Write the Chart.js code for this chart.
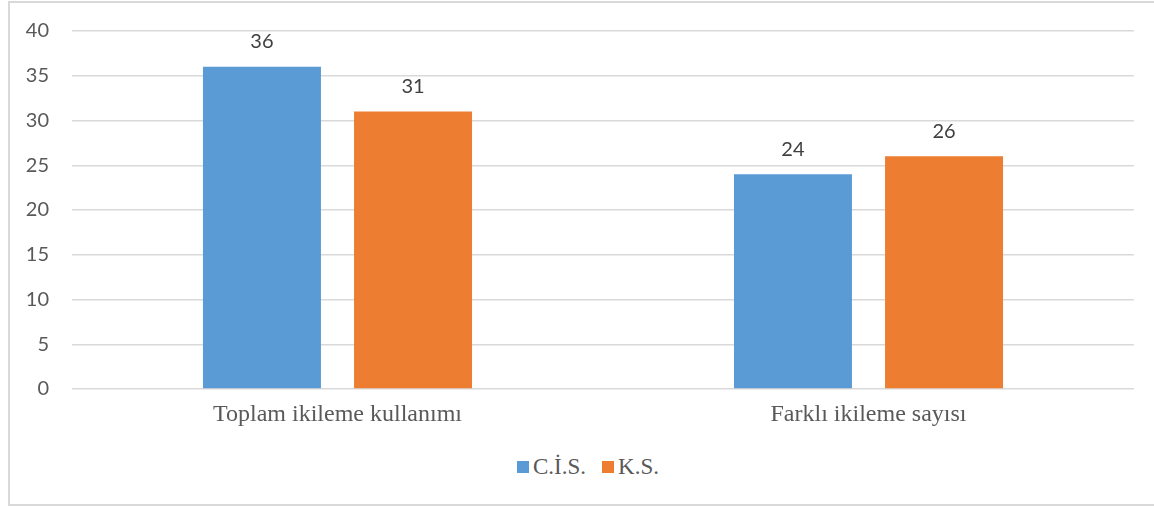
<!DOCTYPE html>
<html>
<head>
<meta charset="utf-8">
<script src="https://cdn.jsdelivr.net/npm/chart.js@4"></script>
<style>
  html, body { margin: 0; padding: 0; background: #fff; width: 1154px; height: 506px; overflow: hidden; }
  #frame { position: absolute; left: 8px; top: 1px; width: 1160px; height: 505px; border: 2px solid #d9d9d9; box-sizing: border-box; }
  #wrap { position: absolute; left: 0; top: -4px; width: 1154px; height: 444px; }
  #legend { position: absolute; left: 0; top: 454px; width: 1176px; text-align: center; font-family: "Liberation Serif", "Times New Roman", serif; font-size: 23px; color: #595959; }
  .item { display: inline-block; margin: 0 8px; }
  .box { display: inline-block; width: 12px; height: 12px; margin-right: 4px; vertical-align: 1px; }
</style>
</head>
<body>
<div id="frame"></div>
<div id="wrap"><canvas id="c" width="1154" height="444"></canvas></div>
<div id="legend"></div>
<script>
const categories = ["Toplam ikileme kullanımı", "Farklı ikileme sayısı"];
const seriesNames = ["C.İ.S.", "K.S."];
const cisValues = [36, 24];
const ksValues = [31, 26];
const seriesColors = ["#5B9BD5", "#ED7D31"];

const valueLabels = {
  id: 'valueLabels',
  afterDatasetsDraw(chart) {
    const ctx = chart.ctx;
    ctx.save();
    ctx.font = '20px Lato, "Open Sans", sans-serif';
    ctx.fillStyle = '#404040';
    ctx.textAlign = 'center';
    ctx.textBaseline = 'middle';
    chart.data.datasets.forEach((ds, i) => {
      chart.getDatasetMeta(i).data.forEach((bar, j) => {
        ctx.fillText(String(ds.data[j]), bar.x, bar.y - 25);
      });
    });
    ctx.restore();
  }
};

new Chart(document.getElementById('c'), {
  type: 'bar',
  data: {
    labels: categories,
    datasets: [
      { label: seriesNames[0], data: cisValues, backgroundColor: seriesColors[0] },
      { label: seriesNames[1], data: ksValues, backgroundColor: seriesColors[1] }
    ]
  },
  options: {
    responsive: false,
    animation: false,
    events: [],
    layout: { padding: { top: 35, right: 20, bottom: 1, left: 0 } },
    datasets: { bar: { categoryPercentage: 0.569, barPercentage: 0.781 } },
    plugins: { legend: { display: false }, tooltip: { enabled: false } },
    scales: {
      x: {
        grid: { display: false, drawTicks: false },
        border: { display: false },
        ticks: { color: '#595959', padding: 11, font: { family: '"Liberation Serif", "Times New Roman", serif', size: 24 } },
        afterFit(s) { s.height = 50; }
      },
      y: {
        min: 0, max: 40,
        grid: { color: '#d9d9d9', lineWidth: 1.5, drawTicks: false },
        border: { display: false },
        ticks: { stepSize: 5, color: '#595959', padding: 23, font: { family: 'Lato, "Open Sans", sans-serif', size: 20 } },
        afterFit(s) { s.width = 72; }
      }
    }
  },
  plugins: [valueLabels]
});

const legend = document.getElementById('legend');
seriesNames.forEach((name, i) => {
  const item = document.createElement('span');
  item.className = 'item';
  const box = document.createElement('span');
  box.className = 'box';
  box.style.background = seriesColors[i];
  item.appendChild(box);
  item.appendChild(document.createTextNode(name));
  legend.appendChild(item);
});
</script>
</body>
</html>
